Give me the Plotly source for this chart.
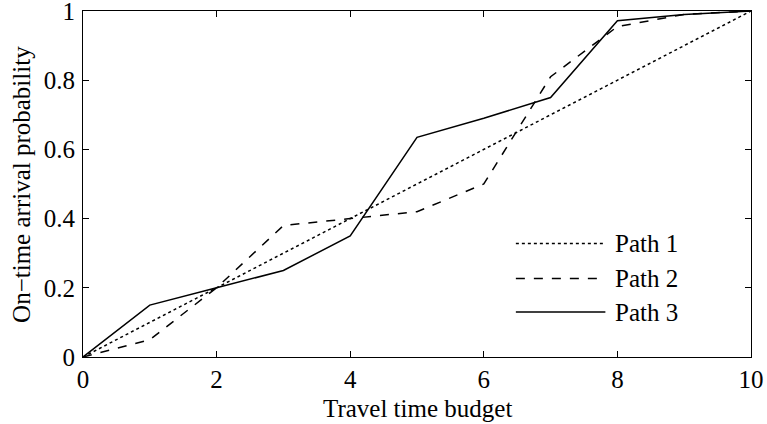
import plotly.graph_objects as go

budget = [0, 1, 2, 3, 4, 5, 6, 7, 8, 9, 10]
path1 = [0.0, 0.1, 0.2, 0.3, 0.4, 0.5, 0.6, 0.7, 0.8, 0.9, 1.0]
path2 = [0.0, 0.05, 0.2, 0.38, 0.40, 0.42, 0.50, 0.81, 0.955, 0.99, 1.0]
path3 = [0.0, 0.15, 0.2, 0.25, 0.35, 0.635, 0.69, 0.75, 0.972, 0.99, 1.0]
names = ["Path 1", "Path 2", "Path 3"]
dashes = ["dot", "dash", "solid"]

FONT = "Liberation Serif, Times New Roman, serif"

fig = go.Figure()
for ys, nm, ds in zip([path1, path2, path3], names, dashes):
    fig.add_trace(go.Scatter(x=budget, y=ys, mode="lines", name=nm,
                             line=dict(color="black", width=1.5, dash=ds),
                             showlegend=False, hoverinfo="skip"))

# custom legend (long line samples, no box)
leg_y = [0.328, 0.227, 0.130]
for nm, ds, yy in zip(names, dashes, leg_y):
    fig.add_shape(type="line", xref="paper", yref="paper",
                  x0=0.648, x1=0.782, y0=yy, y1=yy,
                  line=dict(color="black", width=1.5, dash=ds))
    fig.add_annotation(xref="paper", yref="paper", x=0.794, y=yy,
                       text=nm, showarrow=False, xanchor="left", yanchor="middle",
                       font=dict(family=FONT, size=25, color="black"))

# axis titles as annotations
fig.add_annotation(xref="paper", yref="paper", x=0.5, y=-0.15,
                   text="Travel time budget", showarrow=False,
                   xanchor="center", yanchor="middle",
                   font=dict(family=FONT, size=25, color="black"))
fig.add_annotation(xref="paper", yref="paper", x=-0.093, y=0.5,
                   text="On\u2212time arrival probability", showarrow=False,
                   textangle=-90, xanchor="center", yanchor="middle",
                   font=dict(family=FONT, size=25, color="black"))

axis_common = dict(showline=True, linecolor="black", linewidth=1, mirror="ticks",
                   ticks="inside", ticklen=6, tickcolor="black", showgrid=False,
                   zeroline=False, automargin=False, ticklabeloverflow="allow",
                   tickfont=dict(family=FONT, size=25, color="black"))

fig.update_xaxes(range=[0, 10], tickvals=[0, 2, 4, 6, 8, 10], ticklabelstandoff=0,
                 **axis_common)
fig.update_yaxes(range=[0, 1], tickvals=[0, 0.2, 0.4, 0.6, 0.8, 1],
                 ticktext=["0", "0.2", "0.4", "0.6", "0.8", "1"], ticklabelstandoff=2,
                 **axis_common)

fig.update_layout(width=767, height=424, margin=dict(l=83, r=16, t=11, b=67),
                  plot_bgcolor="white", paper_bgcolor="white",
                  font=dict(family=FONT, size=25, color="black"))

fig.write_html("out.html", config={"displayModeBar": False},
               post_script="document.body.style.margin='0';document.body.style.overflow='hidden';")
